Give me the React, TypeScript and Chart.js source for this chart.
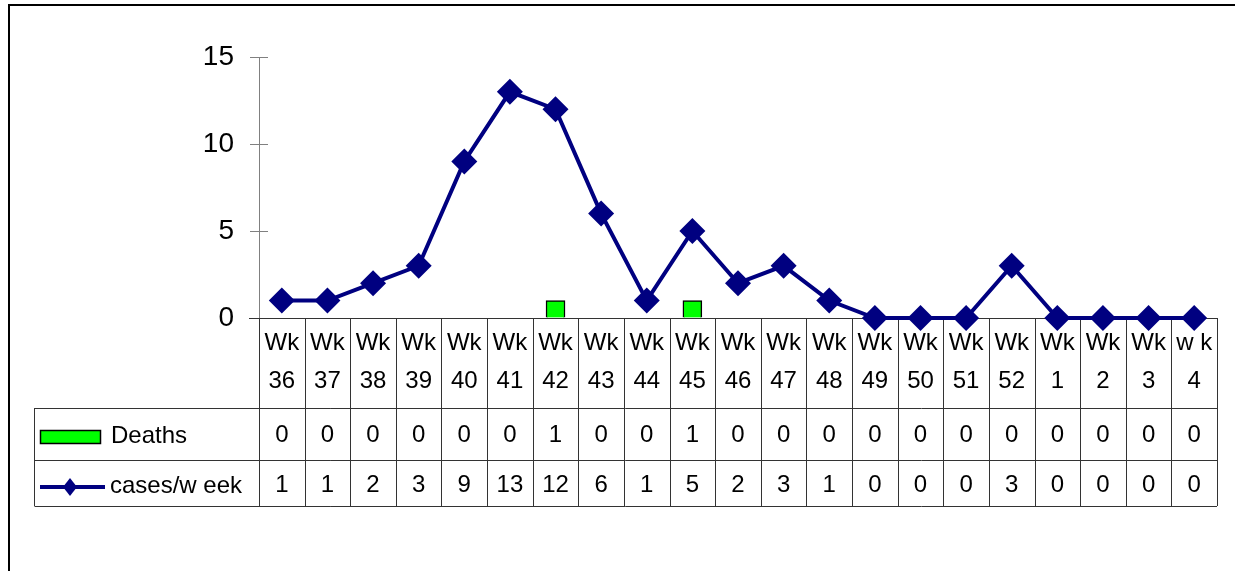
import React, { useEffect, useRef } from "react";
import { Chart, registerables } from "chart.js";

Chart.register(...registerables);

const weekPrefix = ["Wk","Wk","Wk","Wk","Wk","Wk","Wk","Wk","Wk","Wk","Wk","Wk","Wk","Wk","Wk","Wk","Wk","Wk","Wk","Wk","w k"];
const weekNumbers = ["36","37","38","39","40","41","42","43","44","45","46","47","48","49","50","51","52","1","2","3","4"];
const deaths = [0,0,0,0,0,0,1,0,0,1,0,0,0,0,0,0,0,0,0,0,0];
const cases = [1,1,2,3,9,13,12,6,1,5,2,3,1,0,0,0,3,0,0,0,0];
const yTicks = [0, 5, 10, 15];

const FONT = "'Liberation Sans', Arial, sans-serif";
const NAVY = "#000080";
const GREEN = "#00FF00";

const tablePlugin = {
  id: "dataTable",
  beforeDraw(chart: any) {
    const ctx = chart.ctx;
    ctx.save();
    ctx.fillStyle = "#fff";
    ctx.fillRect(0, 0, chart.width, chart.height);
    ctx.strokeStyle = "#000";
    ctx.lineWidth = 2;
    ctx.beginPath();
    ctx.moveTo(9, chart.height);
    ctx.lineTo(9, 5);
    ctx.lineTo(chart.width, 5);
    ctx.stroke();
    ctx.restore();
  },
  beforeDatasetsDraw(chart: any) {
    const ctx = chart.ctx;
    const area = chart.chartArea;
    const xs = chart.scales.x;
    const ys = chart.scales.y;
    const n = weekNumbers.length;
    const cw = (area.right - area.left) / n;
    const y0 = area.bottom;
    const r1 = y0 + 90;
    const r2 = r1 + 52;
    const r3 = r2 + 46;
    const legLeft = 34.5;
    ctx.save();
    ctx.strokeStyle = "#808080";
    ctx.lineWidth = 1;
    ctx.beginPath();
    yTicks.forEach((t) => {
      const py = Math.round(ys.getPixelForValue(t)) + 0.5;
      ctx.moveTo(area.left, py);
      ctx.lineTo(area.left + 9, py);
    });
    ctx.stroke();
    ctx.strokeStyle = "#333";
    ctx.lineWidth = 1;
    ctx.beginPath();
    ctx.moveTo(area.left - 10, y0 + 0.5);
    ctx.lineTo(area.right, y0 + 0.5);
    ctx.moveTo(legLeft, r1 + 0.5);
    ctx.lineTo(area.right, r1 + 0.5);
    ctx.moveTo(legLeft, r2 + 0.5);
    ctx.lineTo(area.right, r2 + 0.5);
    ctx.moveTo(legLeft, r3 + 0.5);
    ctx.lineTo(area.right, r3 + 0.5);
    ctx.moveTo(legLeft, r1);
    ctx.lineTo(legLeft, r3);
    for (let i = 0; i <= n; i++) {
      const x = Math.round(area.left + i * cw) + 0.5;
      ctx.moveTo(x, y0);
      ctx.lineTo(x, r3);
    }
    ctx.stroke();
    ctx.fillStyle = "#000";
    ctx.font = `24px ${FONT}`;
    ctx.textAlign = "center";
    ctx.textBaseline = "middle";
    for (let i = 0; i < n; i++) {
      const cx = xs.getPixelForValue(i);
      ctx.fillText(weekPrefix[i], cx, y0 + 25);
      ctx.fillText(weekNumbers[i], cx, y0 + 63);
      ctx.fillText(String(deaths[i]), cx, r1 + 27);
      ctx.fillText(String(cases[i]), cx, r2 + 25);
    }
    ctx.textAlign = "left";
    ctx.fillStyle = GREEN;
    ctx.fillRect(40.5, 430.5, 60, 13);
    ctx.strokeStyle = "#000";
    ctx.lineWidth = 1.5;
    ctx.strokeRect(40.5, 430.5, 60, 13);
    ctx.fillStyle = "#000";
    ctx.fillText("Deaths", 111, r1 + 28);
    const ly = r2 + 27;
    ctx.strokeStyle = NAVY;
    ctx.lineWidth = 4;
    ctx.beginPath();
    ctx.moveTo(40, ly);
    ctx.lineTo(105, ly);
    ctx.stroke();
    ctx.fillStyle = NAVY;
    ctx.beginPath();
    ctx.moveTo(70, ly - 9);
    ctx.lineTo(77, ly);
    ctx.lineTo(70, ly + 9);
    ctx.lineTo(63, ly);
    ctx.closePath();
    ctx.fill();
    ctx.fillStyle = "#000";
    ctx.fillText("cases/w eek", 110, r2 + 26);
    ctx.restore();
  },
};

export default function App() {
  const ref = useRef<HTMLCanvasElement | null>(null);
  useEffect(() => {
    if (!ref.current) return;
    const chart = new Chart(ref.current, {
      type: "bar",
      data: {
        labels: weekNumbers,
        datasets: [
          {
            type: "line",
            label: "cases/week",
            data: cases,
            borderColor: NAVY,
            backgroundColor: NAVY,
            borderWidth: 4,
            pointStyle: "rectRot",
            pointRadius: 13,
            pointBorderWidth: 0,
            pointBackgroundColor: NAVY,
            tension: 0,
            clip: false,
            order: 0,
          } as any,
          {
            type: "bar",
            label: "Deaths",
            data: deaths,
            backgroundColor: GREEN,
            borderColor: "#000",
            borderWidth: 1.5,
            barThickness: 19,
            order: 1,
          },
        ],
      },
      options: {
        responsive: false,
        animation: false,
        layout: { padding: { left: 0, top: 57, right: 18, bottom: 253 } },
        plugins: { legend: { display: false }, tooltip: { enabled: false } },
        scales: {
          x: { display: false, offset: true },
          y: {
            min: 0,
            max: 15,
            afterFit: (s: any) => { s.width = 259; },
            ticks: {
              stepSize: 5,
              padding: 16,
              color: "#000",
              font: { family: FONT, size: 28 },
            },
            grid: { drawOnChartArea: false, drawTicks: true, tickLength: 9, color: "#808080" },
            border: { color: "#808080" },
          },
        },
      },
      plugins: [tablePlugin],
    });
    return () => chart.destroy();
  }, []);
  return (
    <div style={{ position: "absolute", left: 0, top: 0, width: 1235, height: 571, background: "#fff" }}>
      <canvas ref={ref} width={1235} height={571} style={{ width: 1235, height: 571 }} />
    </div>
  );
}
